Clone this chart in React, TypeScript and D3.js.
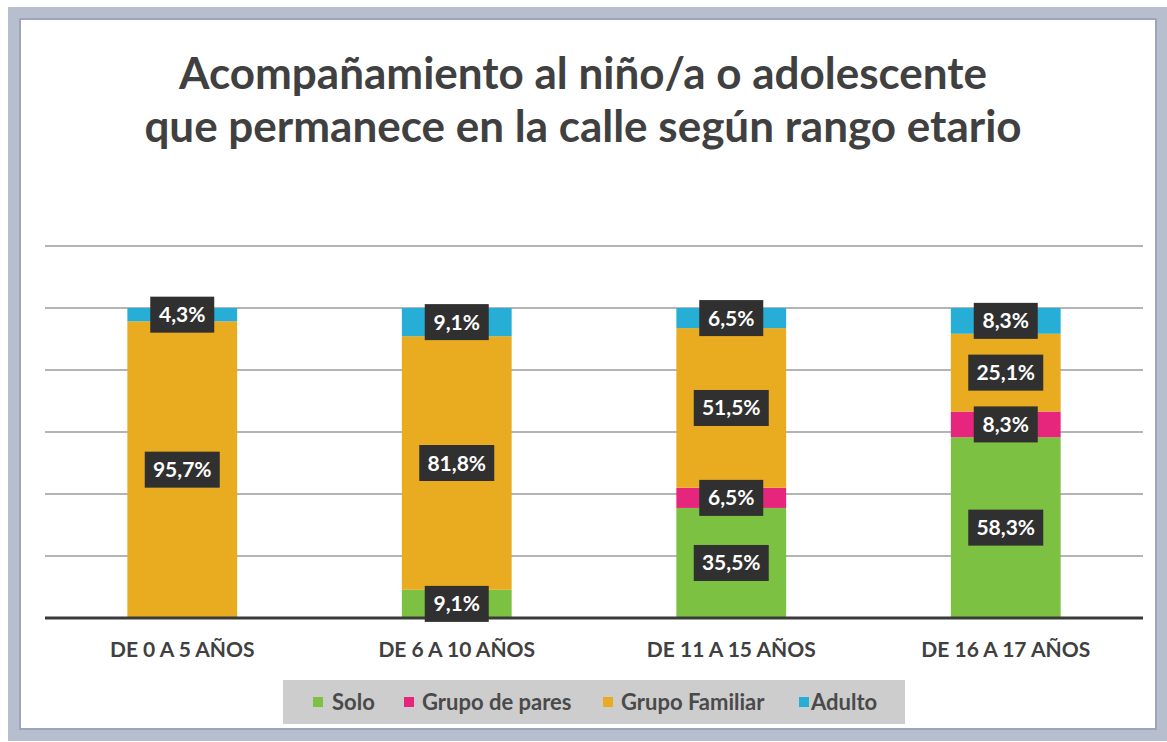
import React from "react";
import * as d3 from "d3";

const categories = ["DE 0 A 5 AÑOS", "DE 6 A 10 AÑOS", "DE 11 A 15 AÑOS", "DE 16 A 17 AÑOS"];
const seriesNames = ["Solo", "Grupo de pares", "Grupo Familiar", "Adulto"];
const solo = [0, 9.1, 35.5, 58.3];
const pares = [0, 0, 6.5, 8.3];
const familiar = [95.7, 81.8, 51.5, 25.1];
const adulto = [4.3, 9.1, 6.5, 8.3];
const colors = ["#7cc142", "#e5267c", "#e9ab1f", "#27aed6"];
const yTicks = [0, 20, 40, 60, 80, 100, 120];

const W = 1167;
const H = 742;
const FONT = "Lato, 'Open Sans', sans-serif";

export default function App() {
  const x = d3.scaleBand().domain(categories).range([45, 1143]).paddingInner(0.6).paddingOuter(0.3);
  const y = d3.scaleLinear().domain([0, 100]).range([618, 308]);

  const rows = categories.map((c, i) => ({
    cat: c,
    Solo: solo[i],
    "Grupo de pares": pares[i],
    "Grupo Familiar": familiar[i],
    Adulto: adulto[i],
  }));
  const stacked = d3.stack<any>().keys(seriesNames)(rows);
  const fmt = (v: number) => v.toFixed(1).replace(".", ",") + "%";

  // legend layout
  const legendItems = [
    { name: "Solo", x: 313, tx: 332 },
    { name: "Grupo de pares", x: 404, tx: 422 },
    { name: "Grupo Familiar", x: 603, tx: 621 },
    { name: "Adulto", x: 799, tx: 811 },
  ];

  return (
    <svg width={W} height={H} style={{ position: "absolute", left: 0, top: 0 }}>
      <rect x={0} y={0} width={W} height={H} fill="#ffffff" />
      {/* frame */}
      <rect x={14} y={13} width={1148} height={722} fill="none" stroke="#b7bfcf" strokeWidth={12} />
      <rect x={20} y={19} width={1136} height={710} fill="none" stroke="#9ca5ba" strokeWidth={2} />

      {/* title */}
      <text x={583} y={89} textAnchor="middle" fontFamily={FONT} fontWeight="bold" fontSize={44} fill="#404040">
        Acompañamiento al niño/a o adolescente
      </text>
      <text x={583} y={142} textAnchor="middle" fontFamily={FONT} fontWeight="bold" fontSize={44} fill="#404040">
        que permanece en la calle según rango etario
      </text>

      {/* grid */}
      {yTicks.slice(1).map((t) => (
        <line key={t} x1={45} x2={1143} y1={y(t)} y2={y(t)} stroke="#b4b4b4" strokeWidth={2} />
      ))}

      {/* bars */}
      {stacked.map((s, si) =>
        s.map((d, i) =>
          d[1] - d[0] > 0 ? (
            <rect
              key={`${si}-${i}`}
              x={x(categories[i])}
              width={x.bandwidth()}
              y={y(d[1])}
              height={y(d[0]) - y(d[1])}
              fill={colors[si]}
            />
          ) : null
        )
      )}

      {/* baseline */}
      <line x1={45} x2={1143} y1={y(0)} y2={y(0)} stroke="#3a3a3a" strokeWidth={3} />

      {/* labels */}
      {stacked.map((s, si) =>
        s.map((d, i) => {
          const v = d[1] - d[0];
          if (v <= 0) return null;
          const label = fmt(v);
          const cx = (x(categories[i]) as number) + x.bandwidth() / 2;
          const cy = (y(d[0]) + y(d[1])) / 2;
          const bw = label.length * 11 + 20;
          return (
            <g key={`l-${si}-${i}`}>
              <rect x={cx - bw / 2} y={cy - 18} width={bw} height={36} fill="#303030" />
              <text
                x={cx}
                y={cy + 7.5}
                textAnchor="middle"
                fontFamily={FONT}
                fontWeight="bold"
                fontSize={21}
                fill="#ffffff"
              >
                {label}
              </text>
            </g>
          );
        })
      )}

      {/* category labels */}
      {categories.map((c) => (
        <text
          key={c}
          x={(x(c) as number) + x.bandwidth() / 2}
          y={657}
          textAnchor="middle"
          fontFamily={FONT}
          fontWeight="bold"
          fontSize={21}
          fill="#404040"
        >
          {c}
        </text>
      ))}

      {/* legend */}
      <rect x={283} y={680} width={622} height={44} fill="#cdcdcd" />
      {legendItems.map((it, i) => (
        <g key={it.name}>
          <rect x={it.x} y={697} width={10} height={10} fill={colors[i]} />
          <text x={it.tx} y={710} fontFamily={FONT} fontWeight="bold" fontSize={22} fill="#4a4a4a">
            {it.name}
          </text>
        </g>
      ))}
    </svg>
  );
}
